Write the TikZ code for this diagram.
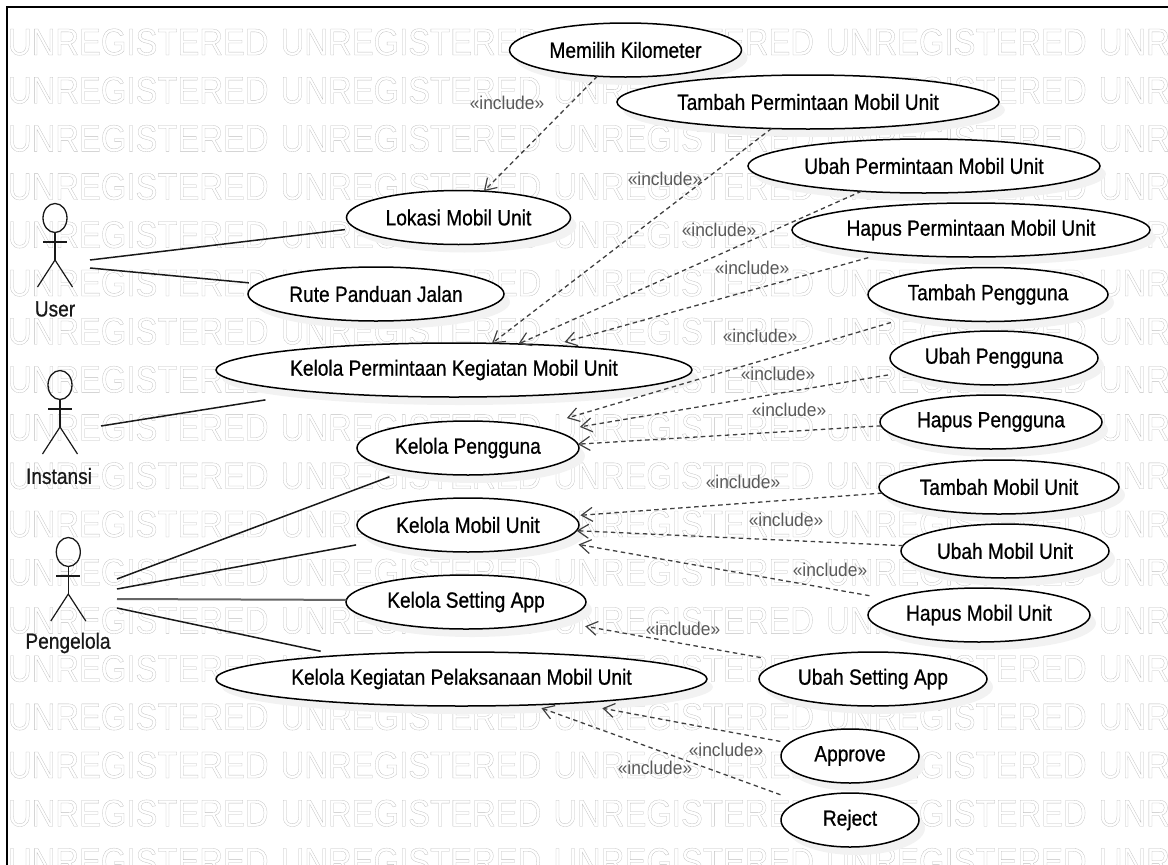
\documentclass[tikz,border=0pt]{standalone}
\usepackage{fontspec}
\usepackage{graphicx}
\usetikzlibrary{arrows.meta,shapes.geometric,shadows}
\setmainfont{Liberation Sans}
\newfontfamily\wmfont[FakeBold=0.8]{Liberation Sans}
\newfontfamily\lblfont[FakeBold=0.8]{Liberation Sans}
\newcommand{\wmtext}{\scalebox{.87}[1]{\fontsize{37.7}{40}\wmfont\color{white}\special{pdf:code 0.75 G}UNREGISTERED}}
\newcommand{\lbltext}[1]{\scalebox{.87}[1]{\fontsize{22}{24}\lblfont #1}}
\tikzset{
  x=1pt,y=-1pt,
  watermark/.style={inner sep=0,outer sep=0,anchor=west},
  usecase/.style={ellipse,draw=black,line width=1.5pt,fill=white,inner sep=0,outer sep=0,
    minimum width=2*#1,minimum height=54pt,
    general shadow={fill=black!5,shadow xshift=6pt,shadow yshift=-8pt}},
  assoc/.style={draw=black!90,line width=1.5pt},
  inc/.style={draw=black!75,line width=1.3pt,dash pattern=on 4.5pt off 3.5pt,
    -{Straight Barb[length=11pt,width=14pt,line width=1.2pt]}},
  inclabel/.style={inner sep=0,outer sep=0,text=black!65},
  actorlabel/.style={inner sep=0,outer sep=0,text=black!90},
  actorline/.style={draw=black!90,line width=1.2pt},
  frameline/.style={draw=black,line width=2pt},
}
\newcommand{\inctext}{\scalebox{.94}[1]{\fontsize{18.5}{20}\selectfont «include»}}
\newcommand{\actor}[3]{% name, x, y of head centre
  \node[ellipse,draw=black!90,line width=1.3pt,inner sep=0,minimum width=24pt,minimum height=29pt] (#1head) at (#2,#3) {};
  \coordinate (#1hip) at (#2,#3+42);
  \coordinate (#1la) at (#2-12,#3+24);
  \coordinate (#1ra) at (#2+12,#3+24);
  \coordinate (#1ll) at (#2-17.5,#3+69);
  \coordinate (#1rl) at (#2+17.5,#3+69);
  \draw[actorline] (#1head.south) -- (#1hip);
  \draw[actorline] (#1la) -- (#1ra);
  \draw[actorline] (#1ll) -- (#1hip) -- (#1rl);
}
\begin{document}
\begin{tikzpicture}
\useasboundingbox (0,0) rectangle (1168,865);
\begin{scope}
\clip (0,0) rectangle (1168,865);
\foreach \k in {0,...,17}{
  \foreach \j in {0,...,4}{
    \node[watermark] (wm-\k-\j) at ({8+272.7*\j},{42+48.2*\k}) {\wmtext};
  }
}
\end{scope}
\draw[frameline] (7,866) -- (7,6.5) -- (1169,6.5);

% use cases
\node[usecase=116] (memilih) at (625.5,50) {\lbltext{Memilih Kilometer}};
\node[usecase=191] (tperm) at (808,102) {\lbltext{Tambah Permintaan Mobil Unit}};
\node[usecase=176] (uperm) at (924,166) {\lbltext{Ubah Permintaan Mobil Unit}};
\node[usecase=179] (hperm) at (971,230) {\lbltext{Hapus Permintaan Mobil Unit}};
\node[usecase=120] (tpeng) at (988,294.5) {\lbltext{Tambah Pengguna}};
\node[usecase=104] (upeng) at (994,358) {\lbltext{Ubah Pengguna}};
\node[usecase=111] (hpeng) at (991,422) {\lbltext{Hapus Pengguna}};
\node[usecase=120] (tmob) at (999,487) {\lbltext{Tambah Mobil Unit}};
\node[usecase=104] (umob) at (1005,551) {\lbltext{Ubah Mobil Unit}};
\node[usecase=111] (hmob) at (979,615) {\lbltext{Hapus Mobil Unit}};
\node[usecase=114] (uset) at (873,679) {\lbltext{Ubah Setting App}};
\node[usecase=69] (appr) at (850,756) {\lbltext{Approve}};
\node[usecase=69] (rej) at (850,820) {\lbltext{Reject}};
\node[usecase=112] (lokasi) at (458.5,217.5) {\lbltext{Lokasi Mobil Unit}};
\node[usecase=128] (rute) at (376,294) {\lbltext{Rute Panduan Jalan}};
\node[usecase=238] (kperm) at (454,370) {\lbltext{Kelola Permintaan Kegiatan Mobil Unit}};
\node[usecase=111] (kpeng) at (468,448) {\lbltext{Kelola Pengguna}};
\node[usecase=111] (kmob) at (468,525) {\lbltext{Kelola Mobil Unit}};
\node[usecase=120] (kset) at (466,602) {\lbltext{Kelola Setting App}};
\node[usecase=245.5] (kkeg) at (461.5,679) {\lbltext{Kelola Kegiatan Pelaksanaan Mobil Unit}};

% actors
\actor{user}{55}{218}
\actor{inst}{60}{385}
\actor{peng}{68.3}{552}
\node[actorlabel] (userlabel) at (55,309) {\lbltext{User}};
\node[actorlabel] (instlabel) at (59,476) {\lbltext{Instansi}};
\node[actorlabel] (penglabel) at (68,643) {\lbltext{Pengelola}};

% free ends of associations beside the actors
\coordinate (userA) at (90,260);
\coordinate (userB) at (90,268);
\coordinate (instA) at (101,426);
\coordinate (pengA) at (117,579);
\coordinate (pengB) at (117,589);
\coordinate (pengC) at (117,599);
\coordinate (pengD) at (117,608);

\draw[assoc,shorten >=11pt] (userA) -- (lokasi.186.25);
\draw[assoc,shorten >=9pt] (userB) -- (rute.175.15);
\draw[assoc,shorten >=50.6pt] (instA) -- (kperm.189.27);
\draw[assoc,shorten >=18pt] (pengA) -- (kpeng.200.7);
\draw[assoc,shorten >=22.4pt] (pengB) -- (kmob.190);
\draw[assoc,draw=black!60,line width=2pt] (pengC) -- (kset.179);
\draw[assoc,shorten >=20.4pt] (pengD) -- (kkeg.169.05);

% include dependencies
\draw[inc] (memilih.223.5) -- (lokasi.46);
\draw[inc] (tperm.216) -- (kperm.35.7);
\draw[inc] (uperm.202.2) -- (kperm.22.7);
\draw[inc,shorten <=15.5pt,shorten >=12.4pt] (hperm.195.07) -- (kperm.14.57);
\draw[inc,shorten <=24pt,shorten >=31pt] (tpeng.196.1) -- (kpeng.17.1);
\draw[inc,shorten <=17.5pt,shorten >=25.5pt] (upeng.189.9) -- (kpeng.11);
\draw[inc] (hpeng.182.6) -- (kpeng.2.7);
\draw[inc,shorten >=8pt] (tmob.183.8) -- (kmob.5.2);
\draw[inc] (umob.177.3) -- (kmob.357);
\draw[inc,shorten <=20pt,shorten >=21pt] (hmob.170.2) -- (kmob.350.5);
\draw[inc,shorten <=24.4pt,shorten >=32.5pt] (uset.169.7) -- (kset.348.7);
\draw[inc,shorten <=9.2pt,shorten >=28.5pt] (appr.168.4) -- (kkeg.348.6);
\draw[inc,shorten <=20.2pt,shorten >=9.5pt] (rej.160.6) -- (kkeg.340.1);

% include labels
\node[inclabel] (l1) at (507,103) {\inctext};
\node[inclabel] (l2) at (665,179) {\inctext};
\node[inclabel] (l3) at (719,230) {\inctext};
\node[inclabel] (l4) at (752,268) {\inctext};
\node[inclabel] (l5) at (760,336) {\inctext};
\node[inclabel] (l6) at (778,374) {\inctext};
\node[inclabel] (l7) at (789,410) {\inctext};
\node[inclabel] (l8) at (743,482) {\inctext};
\node[inclabel] (l9) at (786,520) {\inctext};
\node[inclabel] (l10) at (830,570) {\inctext};
\node[inclabel] (l11) at (683,629) {\inctext};
\node[inclabel] (l12) at (726,750) {\inctext};
\node[inclabel] (l13) at (655,768) {\inctext};
\end{tikzpicture}
\end{document}
